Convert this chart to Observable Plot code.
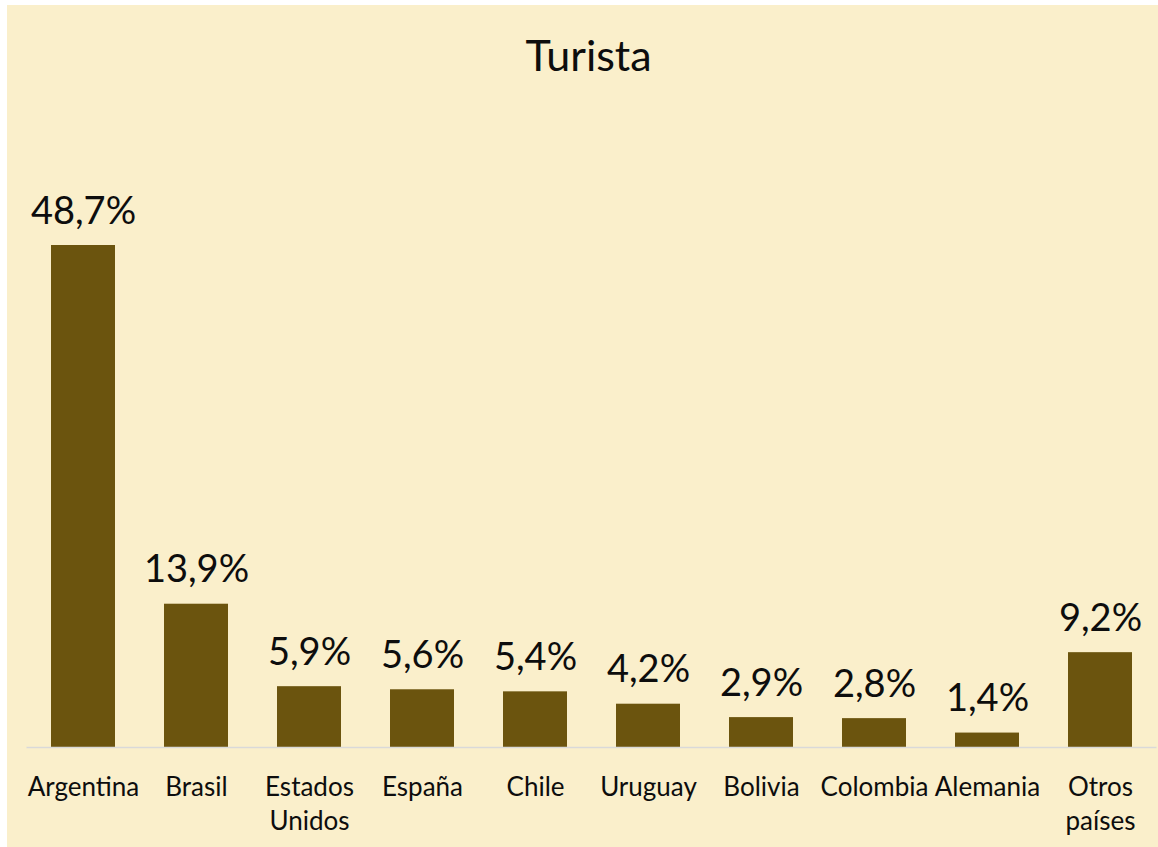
<!DOCTYPE html>
<html>
<head>
<meta charset="utf-8">
<script src="https://cdn.jsdelivr.net/npm/d3@7"></script>
<script src="https://cdn.jsdelivr.net/npm/@observablehq/plot@0.6"></script>
<style>
  html, body { margin: 0; padding: 0; background: #ffffff; }
  #card { position: absolute; left: 7px; top: 5px; width: 1151px; height: 842px; background: #FAEFCB; overflow: hidden; }
  #title { position: absolute; top: 28px; left: 0; width: 1163px; text-align: center; font-family: Lato, sans-serif; font-size: 43px; line-height: 43px; color: #0d0d0d; }
  #chart { position: absolute; left: 0; top: 95px; }
</style>
</head>
<body>
<div id="card">
  <div id="title">Turista</div>
  <div id="chart"></div>
</div>
<script>
const categories = ["Argentina", "Brasil", "Estados\nUnidos", "España", "Chile", "Uruguay", "Bolivia", "Colombia", "Alemania", "Otros\npaíses"];
const values = [48.7, 13.9, 5.9, 5.6, 5.4, 4.2, 2.9, 2.8, 1.4, 9.2];

const data = categories.map((c, i) => ({ country: c, value: values[i] }));
const fmt = v => v.toFixed(1).replace(".", ",") + "%";

const chart = Plot.plot({
  width: 1151,
  height: 747,
  marginLeft: 19.5,
  marginRight: 1.5,
  marginTop: 0,
  marginBottom: 100,
  style: { background: "transparent", fontFamily: "Lato, sans-serif", color: "#0d0d0d" },
  x: { domain: categories, paddingInner: 0.434, paddingOuter: 0.217, axis: null },
  y: { domain: [0, 50], range: [647, 131.6], axis: null },
  marks: [
    Plot.barY(data, { x: "country", y: "value", fill: "#6B540E" }),
    Plot.ruleY([0], { stroke: "#d9d9d9", strokeWidth: 1.5 }),
    Plot.text(data, { x: "country", y: "value", text: d => fmt(d.value), dy: -22, lineAnchor: "bottom", fontSize: 38, fill: "#0d0d0d" }),
    Plot.text(data, { x: "country", y: () => 0, text: "country", lineAnchor: "top", dy: 24, fontSize: 26, lineHeight: 1.31, fill: "#0d0d0d" })
  ]
});
document.getElementById("chart").appendChild(chart);
</script>
</body>
</html>
